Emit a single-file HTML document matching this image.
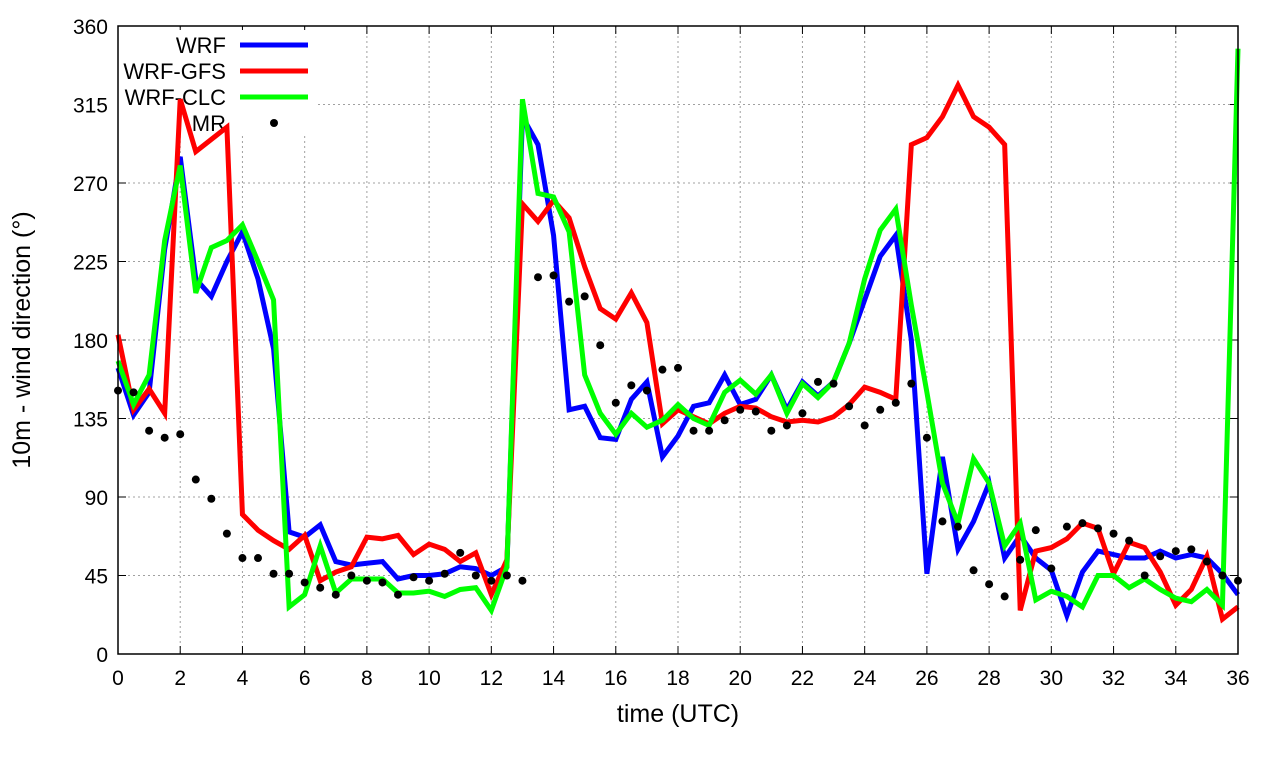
<!DOCTYPE html>
<html><head><meta charset="utf-8"><style>body{margin:0;background:#fff}svg{display:block}text{font-family:"Liberation Sans",sans-serif;fill:#000}</style></head>
<body>
<svg id="chart" width="1280" height="760" viewBox="0 0 1280 760"></svg>
<script>
const hours = []; for (let i = 0; i <= 72; i++) hours.push(i / 2);
const xTicks = [0,2,4,6,8,10,12,14,16,18,20,22,24,26,28,30,32,34,36];
const yTicks = [0,45,90,135,180,225,270,315,360];
const wrf = [164,137,150,232,285,215,205,225,242,215,175,70,67,74,53,51,52,53,43,45,45,46,50,49,45,50,308,292,240,140,142,124,123,146,156,113,125,142,144,160,143,146,160,140,156,148,156,178,203,228,240,180,46,113,60,76,98,55,68,55,48,22,47,59,57,55,55,59,55,57,55,46,34];
const gfs = [183,140,152,138,318,288,295,302,80,71,65,60,68,42,47,50,67,66,68,57,63,60,53,58,34,54,258,248,260,250,222,198,192,207,190,132,140,136,132,138,142,141,136,133,134,133,136,143,153,150,146,292,296,308,326,308,302,292,25,59,61,66,75,72,46,64,61,47,28,37,56,20,27];
const clc = [168,143,160,237,280,207,233,237,246,225,203,27,34,62,35,43,43,43,35,35,36,33,37,38,25,50,318,264,262,242,160,138,126,138,130,134,143,135,131,150,157,149,160,138,155,147,156,178,215,243,255,200,150,98,75,112,98,62,75,31,36,33,27,45,45,38,43,37,32,30,37,28,347];
const mrHours = [0,0.5,1,1.5,2,2.5,3,3.5,4,4.5,5,5.5,6,6.5,7,7.5,8,8.5,9,9.5,10,10.5,11,11.5,12,12.5,13,13.5,14,14.5,15,15.5,16,16.5,17,17.5,18,18.5,19,19.5,20,20.5,21,21.5,22,22.5,23,23.5,24,24.5,25,25.5,26,26.5,27,27.5,28,28.5,29,29.5,30,30.5,31,31.5,32,32.5,33,33.5,34,34.5,35,35.5,36];
const mr = [151,150,128,124,126,100,89,69,55,55,46,46,41,38,34,45,42,41,34,44,42,46,58,45,42,45,42,216,217,202,205,177,144,154,151,163,164,128,128,134,140,139,128,131,138,156,155,142,131,140,144,155,124,76,73,48,40,33,54,71,49,73,75,72,69,65,45,56,59,60,53,45,42];

const L=118,R=1238,T=26,B=654;
const X=v=>L+(v/36)*(R-L), Y=v=>B-(v/360)*(B-T);
const svg=document.getElementById('chart'), NS='http://www.w3.org/2000/svg';
function mk(t,a,p){const e=document.createElementNS(NS,t);for(const k in a)e.setAttribute(k,a[k]);(p||svg).appendChild(e);return e;}
const grid=mk('g',{});


xTicks.forEach(v=>{
  if(v>0&&v<36){const g=mk('line',{x1:X(v),x2:X(v),y1:T,y2:B,stroke:'#a0a0a0','stroke-dasharray':'2,3'},grid);
  
  }
  const tk=mk('line',{x1:X(v),x2:X(v),y1:B,y2:B-8,stroke:'#000'});
  
  
  const tk2=mk('line',{x1:X(v),x2:X(v),y1:T,y2:T+8,stroke:'#000'});
  
  
  const t=mk('text',{x:X(v),y:B+31,'text-anchor':'middle','font-size':21});t.textContent=v;
  
  
});
yTicks.forEach(v=>{
  if(v>0&&v<360){const g=mk('line',{x1:L,x2:R,y1:Y(v),y2:Y(v),stroke:'#a0a0a0','stroke-dasharray':'2,3'},grid);
  
  }
  const tk=mk('line',{x1:L,x2:L+8,y1:Y(v),y2:Y(v),stroke:'#000'});
  
  
  const tk2=mk('line',{x1:R,x2:R-8,y1:Y(v),y2:Y(v),stroke:'#000'});
  
  
  const t=mk('text',{x:L-10,y:Y(v)+8,'text-anchor':'end','font-size':21});t.textContent=v;
  
  
});
// legend (behind series)
const lg=mk('g',{});


mk('rect',{x:110,y:30,width:205,height:106,fill:'#fff'},lg);
[['WRF','#0000ff'],['WRF-GFS','#ff0000'],['WRF-CLC','#00ff00'],['MR','#000']].forEach((d,i)=>{
  const y=45+i*26;
  const t=mk('text',{x:226,y:y+8,'text-anchor':'end','font-size':22},lg);t.textContent=d[0];
  
  
  if(i<3){const l=mk('line',{x1:240,x2:308,y1:y,y2:y,stroke:d[1],'stroke-width':5},lg);
    
    }
  else{const c=mk('circle',{cx:274,cy:y,r:4,fill:'#000'},lg);
    
    }
});
function line(vals,col,name){
  const p=mk('polyline',{points:vals.map((v,i)=>X(hours[i])+','+Y(v)).join(' '),fill:'none',stroke:col,'stroke-width':5,'stroke-linejoin':'miter'});
  
  
}
line(wrf,'#0000ff','wrf-line');
line(gfs,'#ff0000','wrf-gfs-line');
line(clc,'#00ff00','wrf-clc-line');
mr.forEach((v,i)=>{const c=mk('circle',{cx:X(mrHours[i]),cy:Y(v),r:4,fill:'#000'});
  
  });
const fr=mk('rect',{x:L,y:T,width:R-L,height:B-T,fill:'none',stroke:'#000','stroke-width':1.5});


const xt=mk('text',{x:(L+R)/2,y:722,'text-anchor':'middle','font-size':25});xt.textContent='time (UTC)';


const yt=mk('text',{x:0,y:0,'text-anchor':'middle','font-size':25,transform:'translate(30,340) rotate(-90)'});yt.textContent='10m - wind direction (°)';


</script>
</body></html>
